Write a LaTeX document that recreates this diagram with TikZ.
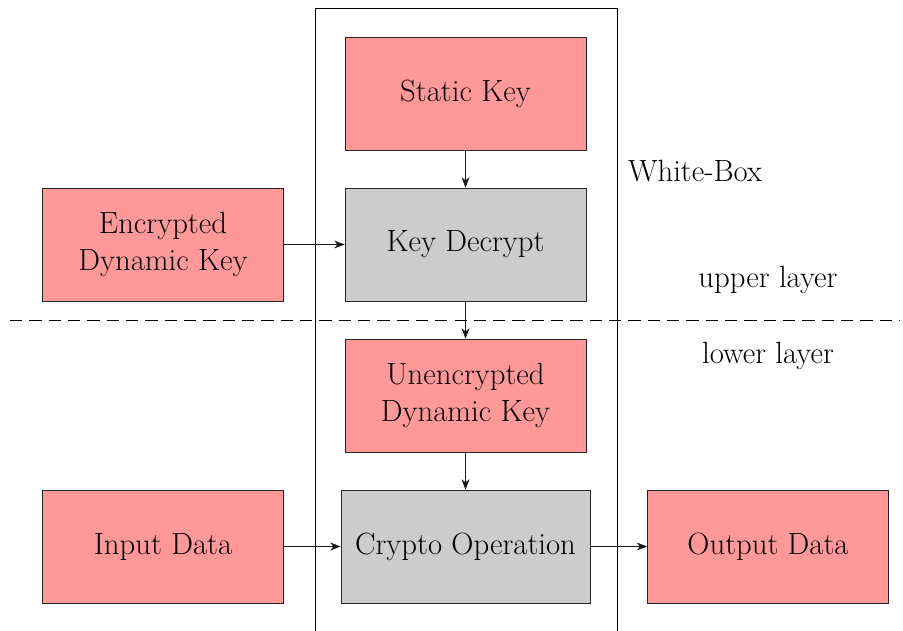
\documentclass[tikz,border=0pt]{standalone}
\usetikzlibrary{arrows.meta}
\begin{document}
\begin{tikzpicture}[x=0.02cm,y=-0.02cm,
  every node/.style={font=\fontsize{17.5}{21.5}\selectfont},
  box/.style={draw=black!85, minimum width=4.82cm, minimum height=2.26cm, align=center, inner sep=2pt},
  keybox/.style={box, fill=red!40},
  opbox/.style={box, fill=black!20},
  link/.style={-{Stealth[length=6pt,width=4.5pt]}, black!90}]
  \useasboundingbox (0,0) rectangle (903,630);
  % white-box boundary, open at the bottom edge of the page
  \begin{scope}
    \clip (0,0) rectangle (903,630);
    \draw (315,8) rectangle (617,650);
  \end{scope}
  \node[anchor=west] (wb) at (622,171) {White-Box};
  % layer separator
  \coordinate (sepL) at (10,320);
  \coordinate (sepR) at (900,320);
  \draw[dashed, dash pattern=on 7pt off 4pt] (sepL) -- (sepR);
  \node (up) at (768,280) {upper layer};
  \node (low) at (768,356) {lower layer};
  % blocks
  \node[keybox] (sk) at (465.5,93.5) {Static Key};
  \node[opbox] (kd) at (465.5,244.5) {Key Decrypt};
  \node[keybox] (edk) at (163,244.5) {Encrypted\\Dynamic Key};
  \node[keybox] (udk) at (465.5,395.5) {Unencrypted\\Dynamic Key};
  \node[opbox, minimum width=4.98cm] (co) at (465.5,546.5) {Crypto Operation};
  \node[keybox] (in) at (163,546.5) {Input Data};
  \node[keybox] (out) at (768,546.5) {Output Data};
  % connections
  \draw[link] (sk) -- (kd);
  \draw[link] (edk) -- (kd);
  \draw[link] (kd) -- (udk);
  \draw[link] (udk) -- (co);
  \draw[link] (in) -- (co);
  \draw[link] (co) -- (out);
\end{tikzpicture}
\end{document}
